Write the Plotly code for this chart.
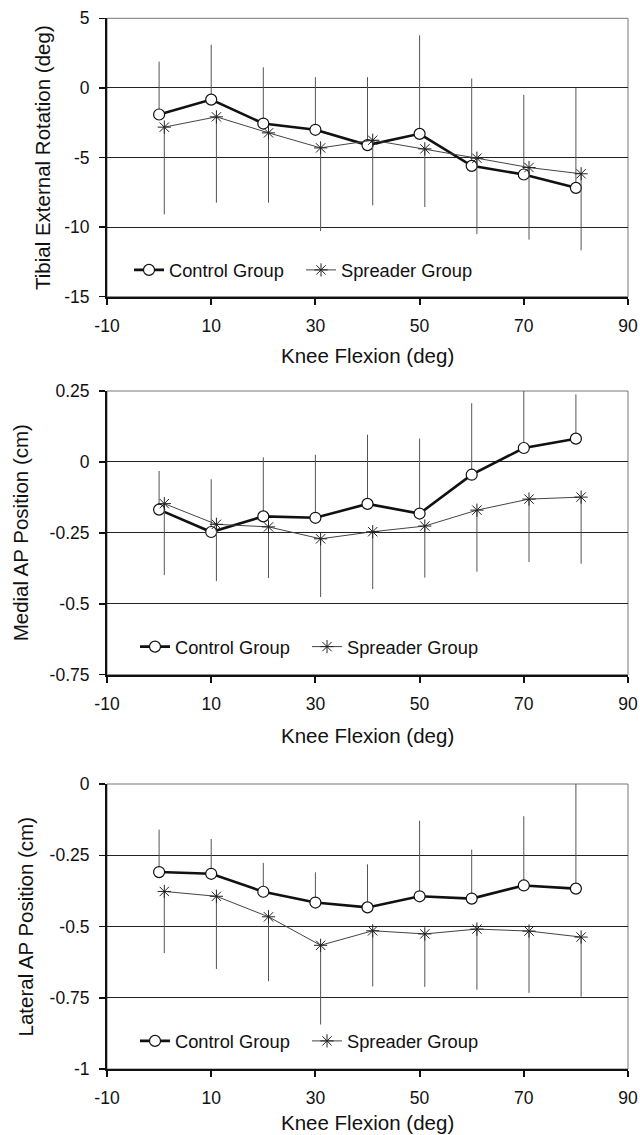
import plotly.graph_objects as go

# ---------------- data ----------------
flex_control = [0, 10, 20, 30, 40, 50, 60, 70, 80]
flex_spreader = [1, 11, 21, 31, 41, 51, 61, 71, 81]

# Panel 1: Tibial External Rotation (deg)
rot_control = [-1.91, -0.84, -2.56, -3.01, -4.11, -3.30, -5.60, -6.22, -7.18]
rot_control_sd = [3.80, 3.95, 4.04, 3.78, 4.88, 7.08, 6.27, 5.72, 7.18]
rot_spreader = [-2.82, -2.08, -3.23, -4.31, -3.76, -4.38, -5.05, -5.72, -6.17]
rot_spreader_sd = [6.27, 6.17, 5.02, 5.98, 4.68, 4.18, 5.45, 5.18, 5.50]

# Panel 2: Medial AP Position (cm)
med_control = [-0.168, -0.247, -0.192, -0.197, -0.148, -0.182, -0.045, 0.049, 0.082]
med_control_sd = [0.136, 0.186, 0.208, 0.222, 0.244, 0.264, 0.252, 0.221, 0.156]
med_spreader = [-0.147, -0.220, -0.229, -0.271, -0.246, -0.226, -0.170, -0.131, -0.124]
med_spreader_sd = [0.252, 0.200, 0.180, 0.205, 0.202, 0.182, 0.217, 0.222, 0.235]

# Panel 3: Lateral AP Position (cm)
lat_control = [-0.309, -0.315, -0.378, -0.416, -0.433, -0.394, -0.402, -0.356, -0.367]
lat_control_sd = [0.149, 0.122, 0.101, 0.106, 0.151, 0.265, 0.172, 0.243, 0.385]
lat_spreader = [-0.377, -0.394, -0.466, -0.566, -0.515, -0.526, -0.509, -0.516, -0.537]
lat_spreader_sd = [0.216, 0.255, 0.226, 0.278, 0.195, 0.186, 0.213, 0.217, 0.209]

x_ticks = [-10, 10, 30, 50, 70, 90]
x_ticktext = ["-10", "10", "30", "50", "70", "90"]
y1_ticks = [5, 0, -5, -10, -15]
y1_ticktext = ["5", "0", "-5", "-10", "-15"]
y2_ticks = [0.25, 0, -0.25, -0.5, -0.75]
y2_ticktext = ["0.25", "0", "-0.25", "-0.5", "-0.75"]
y3_ticks = [0, -0.25, -0.5, -0.75, -1]
y3_ticktext = ["0", "-0.25", "-0.5", "-0.75", "-1"]

y_titles = ["Tibial External Rotation (deg)", "Medial AP Position (cm)", "Lateral AP Position (cm)"]
x_title = "Knee Flexion (deg)"
names = ["Control Group", "Spreader Group"]

# ---------------- style ----------------
FONT = "Liberation Sans, Arial, sans-serif"
W, H = 640, 1135
ML, MR, MT, MB = 107, 12, 18, 66
PW = W - ML - MR
PH = H - MT - MB


def py(p):
    return (H - MB - p) / PH


def px(p):
    return (p - ML) / PW


panel_px = [(18.3, 296.7), (391, 674.7), (784, 1069)]
domains = [[py(b), min(1.0, py(t))] for t, b in panel_px]

fig = go.Figure()

panels = [
    (rot_control, rot_control_sd, rot_spreader, rot_spreader_sd, [-15, 5], y1_ticks, y1_ticktext),
    (med_control, med_control_sd, med_spreader, med_spreader_sd, [-0.75, 0.25], y2_ticks, y2_ticktext),
    (lat_control, lat_control_sd, lat_spreader, lat_spreader_sd, [-1, 0], y3_ticks, y3_ticktext),
]

legend_keys = ["legend", "legend2", "legend3"]
legend_y = [py(270), py(646.7), py(1041)]
legend_x = [px(129), px(135), px(135)]
xtitle_y = [355, 735, 1122]
ytitle_x = [42.5, 20.5, 25]

for i, (cm, csd, sm, ssd, yr, yt, ytt) in enumerate(panels):
    n = i + 1
    xa = "x" if n == 1 else f"x{n}"
    ya = "y" if n == 1 else f"y{n}"
    fig.add_trace(go.Scatter(
        x=flex_control, y=cm, name=names[0], mode="lines+markers",
        xaxis=xa, yaxis=ya, legend=legend_keys[i], cliponaxis=False,
        line=dict(color="#111111", width=2.6),
        marker=dict(symbol="circle", size=11, color="white",
                    line=dict(color="#111111", width=1.2)),
        error_y=dict(type="data", symmetric=False, array=csd,
                     arrayminus=[0] * len(csd), color="#555555",
                     thickness=1, width=0),
    ))
    fig.add_trace(go.Scatter(
        x=flex_spreader, y=sm, name=names[1], mode="lines+markers",
        xaxis=xa, yaxis=ya, legend=legend_keys[i], cliponaxis=False,
        line=dict(color="#444444", width=1),
        marker=dict(symbol="asterisk-open", size=11, color="#222222",
                    line=dict(color="#222222", width=1)),
        error_y=dict(type="data", symmetric=False, array=[0] * len(ssd),
                     arrayminus=ssd, color="#555555", thickness=1, width=0),
    ))

    xkey = "xaxis" if n == 1 else f"xaxis{n}"
    ykey = "yaxis" if n == 1 else f"yaxis{n}"
    fig.layout[xkey] = dict(
        domain=[0, 1], anchor=ya, range=[-10, 90],
        tickmode="array", tickvals=x_ticks, ticktext=x_ticktext,
        showgrid=False, zeroline=False, showline=True, linecolor="#111111",
        linewidth=2, ticks="outside", ticklen=6, tickwidth=2, tickcolor="#111111",
        tickfont=dict(family=FONT, size=17.5, color="#111111"),
        ticklabelstandoff=6, automargin=False, fixedrange=True,
    )
    fig.layout[ykey] = dict(
        domain=domains[i], anchor=xa, range=yr,
        tickmode="array", tickvals=yt, ticktext=ytt,
        showgrid=True, gridcolor="#222222", gridwidth=1, zeroline=False,
        showline=True, linecolor="#111111", linewidth=2,
        ticks="outside", ticklen=6, tickwidth=1.5, tickcolor="#111111",
        tickfont=dict(family=FONT, size=17.5, color="#111111"),
        ticklabelstandoff=6, automargin=False, fixedrange=True,
    )
    fig.layout[legend_keys[i]] = dict(
        orientation="h", x=legend_x[i], xanchor="left", y=legend_y[i],
        yanchor="middle", bgcolor="rgba(0,0,0,0)", borderwidth=0,
        font=dict(family=FONT, size=18.3, color="#111111"),
        entrywidth=127, entrywidthmode="pixels", itemclick=False,
        itemdoubleclick=False,
    )
    fig.add_shape(type="rect", xref=f"{xa} domain", yref=f"{ya} domain",
                  x0=0, x1=1, y0=0, y1=1, line=dict(color="#777777", width=1),
                  layer="below")
    fig.add_annotation(text=x_title, xref="paper", yref="paper", x=0.5,
                       y=py(xtitle_y[i]), xanchor="center", yanchor="middle",
                       showarrow=False,
                       font=dict(family=FONT, size=20.5, color="#111111"))
    fig.add_annotation(text=y_titles[i], xref="paper", yref="paper",
                       x=px(ytitle_x[i]), y=(domains[i][0] + domains[i][1]) / 2,
                       xanchor="center", yanchor="middle", textangle=-90,
                       showarrow=False,
                       font=dict(family=FONT, size=20.5, color="#111111"))

fig.update_layout(
    width=W, height=H, template="none",
    margin=dict(l=ML, r=MR, t=MT, b=MB, pad=0),
    paper_bgcolor="white", plot_bgcolor="white",
    showlegend=True,
    font=dict(family=FONT, color="#111111"),
)

fig.write_html(
    "out.html",
    config={"displayModeBar": False, "staticPlot": True},
    post_script="document.body.style.margin='0';document.body.style.overflow='hidden';",
)
